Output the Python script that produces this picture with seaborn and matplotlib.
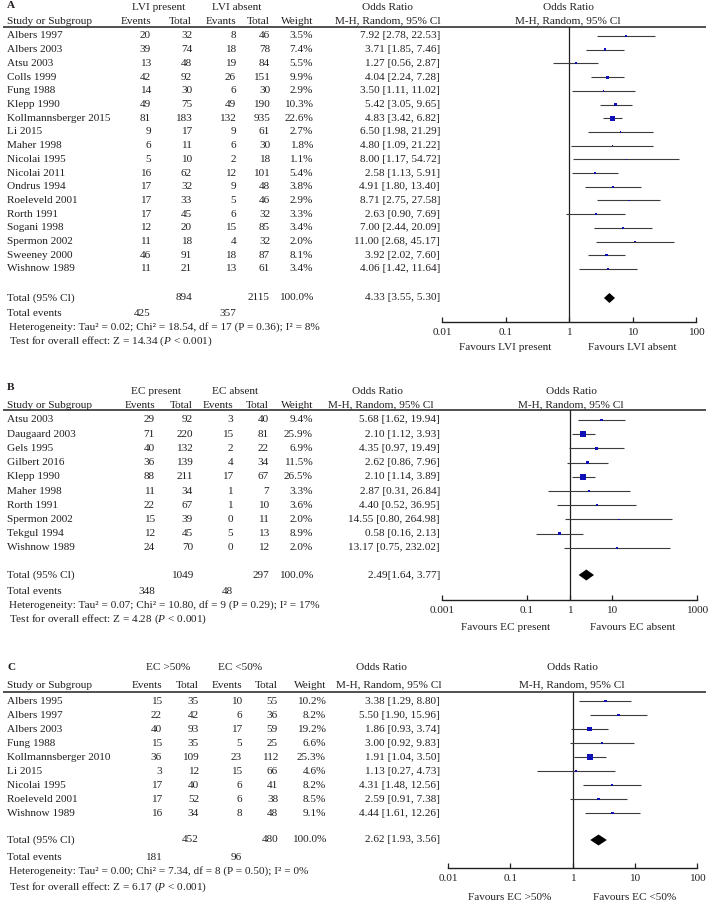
import numpy as np
import matplotlib
matplotlib.use("Agg")
import matplotlib.pyplot as plt
import seaborn as sns

# ---------------- Panel A: LVI present vs LVI absent ----------------
studies_a = ["Albers 1997", "Albers 2003", "Atsu 2003", "Colls 1999", "Fung 1988", "Klepp 1990",
             "Kollmannsberger 2015", "Li 2015", "Maher 1998", "Nicolai 1995", "Nicolai 2011",
             "Ondrus 1994", "Roeleveld 2001", "Rorth 1991", "Sogani 1998", "Spermon 2002",
             "Sweeney 2000", "Wishnow 1989"]
ev1_a = [20, 39, 13, 42, 14, 49, 81, 9, 6, 5, 16, 17, 17, 17, 12, 11, 46, 11]
tot1_a = [32, 74, 48, 92, 30, 75, 183, 17, 11, 10, 62, 32, 33, 45, 20, 18, 91, 21]
ev2_a = [8, 18, 19, 26, 6, 49, 132, 9, 6, 2, 12, 9, 5, 6, 15, 4, 18, 13]
tot2_a = [46, 78, 84, 151, 30, 190, 935, 61, 30, 18, 101, 48, 46, 32, 85, 32, 87, 61]
weight_a = [3.5, 7.4, 5.5, 9.9, 2.9, 10.3, 22.6, 2.7, 1.8, 1.1, 5.4, 3.8, 2.9, 3.3, 3.4, 2.0, 8.1, 3.4]
or_a = [7.92, 3.71, 1.27, 4.04, 3.50, 5.42, 4.83, 6.50, 4.80, 8.00, 2.58, 4.91, 8.71, 2.63,
        7.00, 11.00, 3.92, 4.06]
lo_a = [2.78, 1.85, 0.56, 2.24, 1.11, 3.05, 3.42, 1.98, 1.09, 1.17, 1.13, 1.80, 2.75, 0.90,
        2.44, 2.68, 2.02, 1.42]
hi_a = [22.53, 7.46, 2.87, 7.28, 11.02, 9.65, 6.82, 21.29, 21.22, 54.72, 5.91, 13.40, 27.58,
        7.69, 20.09, 45.17, 7.60, 11.64]
pooled_a = [4.33, 3.55, 5.30]
n_total_a = [894, 2115]
events_total_a = [425, 357]
groups_a = ["LVI present", "LVI absent"]
favours_a = ["Favours LVI present", "Favours LVI absent"]
ticks_a = [0.01, 0.1, 1, 10, 100]
tick_labels_a = ["0.01", "0.1", "1", "10", "100"]
het_a = "Heterogeneity: Tau² = 0.02; Chi² = 18.54, df = 17 (P = 0.36); I² = 8%"
z_a = "Test for overall effect: Z = 14.34 ($P$ < 0.001)"

# ---------------- Panel B: EC present vs EC absent ----------------
studies_b = ["Atsu 2003", "Daugaard 2003", "Gels 1995", "Gilbert 2016", "Klepp 1990",
             "Maher 1998", "Rorth 1991", "Spermon 2002", "Tekgul 1994", "Wishnow 1989"]
ev1_b = [29, 71, 40, 36, 88, 11, 22, 15, 12, 24]
tot1_b = [92, 220, 132, 139, 211, 34, 67, 39, 45, 70]
ev2_b = [3, 15, 2, 4, 17, 1, 1, 0, 5, 0]
tot2_b = [40, 81, 22, 34, 67, 7, 10, 11, 13, 12]
weight_b = [9.4, 25.9, 6.9, 11.5, 26.5, 3.3, 3.6, 2.0, 8.9, 2.0]
or_b = [5.68, 2.10, 4.35, 2.62, 2.10, 2.87, 4.40, 14.55, 0.58, 13.17]
lo_b = [1.62, 1.12, 0.97, 0.86, 1.14, 0.31, 0.52, 0.80, 0.16, 0.75]
hi_b = [19.94, 3.93, 19.49, 7.96, 3.89, 26.84, 36.95, 264.98, 2.13, 232.02]
pooled_b = [2.49, 1.64, 3.77]
n_total_b = [1049, 297]
events_total_b = [348, 48]
groups_b = ["EC present", "EC absent"]
favours_b = ["Favours EC present", "Favours EC absent"]
ticks_b = [0.001, 0.1, 1, 10, 1000]
tick_labels_b = ["0.001", "0.1", "1", "10", "1000"]
het_b = "Heterogeneity: Tau² = 0.07; Chi² = 10.80, df = 9 (P = 0.29); I² = 17%"
z_b = "Test for overall effect: Z = 4.28 ($P$ < 0.001)"

# ---------------- Panel C: EC >50% vs EC <50% ----------------
studies_c = ["Albers 1995", "Albers 1997", "Albers 2003", "Fung 1988", "Kollmannsberger 2010",
             "Li 2015", "Nicolai 1995", "Roeleveld 2001", "Wishnow 1989"]
ev1_c = [15, 22, 40, 15, 36, 3, 17, 17, 16]
tot1_c = [35, 42, 93, 35, 109, 12, 40, 52, 34]
ev2_c = [10, 6, 17, 5, 23, 15, 6, 6, 8]
tot2_c = [55, 36, 59, 25, 112, 66, 41, 38, 48]
weight_c = [10.2, 8.2, 19.2, 6.6, 25.3, 4.6, 8.2, 8.5, 9.1]
or_c = [3.38, 5.50, 1.86, 3.00, 1.91, 1.13, 4.31, 2.59, 4.44]
lo_c = [1.29, 1.90, 0.93, 0.92, 1.04, 0.27, 1.48, 0.91, 1.61]
hi_c = [8.80, 15.96, 3.74, 9.83, 3.50, 4.73, 12.56, 7.38, 12.26]
pooled_c = [2.62, 1.93, 3.56]
n_total_c = [452, 480]
events_total_c = [181, 96]
groups_c = ["EC >50%", "EC <50%"]
favours_c = ["Favours EC >50%", "Favours EC <50%"]
ticks_c = [0.01, 0.1, 1, 10, 100]
tick_labels_c = ["0.01", "0.1", "1", "10", "100"]
het_c = "Heterogeneity: Tau² = 0.00; Chi² = 7.34, df = 8 (P = 0.50); I² = 0%"
z_c = "Test for overall effect: Z = 6.17 ($P$ < 0.001)"

# ---------------- style ----------------
sns.set_theme(style="white")
plt.rcParams["font.family"] = ["Liberation Serif", "DejaVu Serif"]
plt.rcParams["mathtext.fontset"] = "custom"
plt.rcParams["mathtext.rm"] = "Liberation Serif"
plt.rcParams["mathtext.it"] = "Liberation Serif:italic"

W, H = 709, 907
FS = 8.1
TXT = "#231f20"
BLUE = "#1010b8"
LINE = "#3c3c3c"

fig = plt.figure(figsize=(W / 100, H / 100), dpi=100)
bg = fig.add_axes([0, 0, 1, 1])
bg.set_xlim(0, W)
bg.set_ylim(H, 0)
bg.axis("off")


def t(x, y, s, ha="left", **kw):
    bg.text(x, y, s, ha=ha, va="center", fontsize=FS, color=TXT, **kw)


def fmt_or(o, l, h, gap=" "):
    return f"{o:.2f}{gap}[{l:.2f}, {h:.2f}]"


def draw_panel(letter, studies, ev1, tot1, ev2, tot2, weight, ors, lo, hi, pooled,
               n_total, ev_total, groups, favours, ticks, tick_labels, het, z, lay,
               event_heads=("Events", "Events"), pooled_gap=" "):
    cols = lay["cols"]
    # header
    bg.text(7, lay["letter_y"], letter, ha="left", va="center", fontsize=FS,
            fontweight="bold", color=TXT)
    t(lay["group_x"][0], lay["group_y"], groups[0], ha="center")
    t(lay["group_x"][1], lay["group_y"], groups[1], ha="center")
    t(lay["orhead_x"], lay["group_y"], "Odds Ratio", ha="center")
    t(lay["plothead_x"], lay["group_y"], "Odds Ratio", ha="center")
    t(7, lay["head_y"], "Study or Subgroup")
    for x, s in zip(cols, [event_heads[0], "Total", event_heads[1], "Total", "Weight"]):
        t(x, lay["head_y"], s, ha="right")
    t(lay["mh_end"], lay["head_y"], "M-H, Random, 95% Cl", ha="right")
    t(lay["plothead_x"], lay["head_y"], "M-H, Random, 95% Cl", ha="center")
    bg.hlines(lay["line_y"], 3, 706, color=TXT, lw=1.1)

    rows = lay["row0"] + lay["step"] * np.arange(len(studies))
    for i, y in enumerate(rows):
        t(7, y, studies[i])
        vals = [ev1[i], tot1[i], ev2[i], tot2[i], f"{weight[i]:.1f}%"]
        for x, v in zip(cols, vals):
            t(x, y, str(v), ha="right")
        t(lay["or_x"], y, fmt_or(ors[i], lo[i], hi[i]), ha="right")

    ty = lay["total_y"]
    t(7, ty, "Total (95% Cl)")
    t(cols[1], ty, str(n_total[0]), ha="right")
    t(cols[3], ty, str(n_total[1]), ha="right")
    t(cols[4], ty, "100.0%", ha="right")
    t(lay["or_x"], ty, fmt_or(*pooled, gap=pooled_gap), ha="right")
    t(7, lay["events_y"], "Total events")
    t(cols[0], lay["events_y"], str(ev_total[0]), ha="right")
    t(cols[2], lay["events_y"], str(ev_total[1]), ha="right")
    t(9, lay["het_y"], het)
    t(9, lay["z_y"], z)
    t(lay["fav_x"][0], lay["fav_y"], favours[0], ha="center")
    t(lay["fav_x"][1], lay["fav_y"], favours[1], ha="center")

    # forest axes (y in pixel units, x log odds ratio)
    x0, x1 = lay["plot_x"]
    ax = fig.add_axes([x0 / W, 1 - lay["axis_y"] / H, (x1 - x0) / W,
                       (lay["axis_y"] - lay["line_y"]) / H])
    ax.set_xscale("log")
    ax.set_xlim(ticks[0], ticks[-1])
    ax.set_ylim(lay["axis_y"], lay["line_y"])
    ax.patch.set_alpha(0)
    for side in ["top", "left", "right"]:
        ax.spines[side].set_visible(False)
    ax.spines["bottom"].set_color(TXT)
    ax.spines["bottom"].set_linewidth(1.0)
    ax.set_xticks(ticks)
    ax.set_xticklabels(tick_labels)
    ax.minorticks_off()
    ax.tick_params(axis="x", direction="in", length=3.5, width=0.9, pad=4,
                   labelsize=FS, colors=TXT, bottom=True)
    ax.set_yticks([])
    ax.axvline(1, color=TXT, lw=0.9)

    ax.hlines(rows, lo, hi, color=LINE, lw=0.8)
    side_px = 1.2 + 0.17 * np.asarray(weight)
    sizes = (side_px * 0.72) ** 2
    sns.scatterplot(x=ors, y=rows, s=sizes, marker="s", color=BLUE, linewidth=0,
                    legend=False, ax=ax, zorder=3)
    o, l, h = pooled
    hh = lay["dh"]
    ax.fill([l, o, h, o], [ty, ty - hh, ty, ty + hh], color="black", lw=0, zorder=3)
    ax.set_xlabel("")
    ax.set_ylabel("")


lay_a = dict(letter_y=5, group_y=7, head_y=21, line_y=27, row0=36, step=13.7, total_y=298,
             events_y=313, het_y=327, z_y=341, axis_y=322, fav_y=348,
             cols=(151, 192, 236, 270, 313), group_x=(159, 237), or_x=440, orhead_x=387,
             mh_end=441, plothead_x=568, plot_x=(442, 696), fav_x=(505, 632), dh=5)
lay_b = dict(letter_y=387, group_y=392, head_y=405, line_y=410, row0=420, step=14.2,
             total_y=575, events_y=591, het_y=605, z_y=619, axis_y=600, fav_y=627,
             cols=(155, 193, 233, 269, 313), group_x=(156, 235), or_x=440, orhead_x=377,
             mh_end=434, plothead_x=571, plot_x=(442, 697), fav_x=(506, 633), dh=5.5)
lay_c = dict(letter_y=667, group_y=667, head_y=685, line_y=692, row0=701, step=14.0,
             total_y=840, events_y=857, het_y=871, z_y=887, axis_y=868, fav_y=898,
             cols=(162, 199, 242, 278, 326), group_x=(168, 240), or_x=440, orhead_x=381,
             mh_end=442, plothead_x=572, plot_x=(448, 697), fav_x=(510, 635), dh=5.5)

draw_panel("A", studies_a, ev1_a, tot1_a, ev2_a, tot2_a, weight_a, or_a, lo_a, hi_a,
           pooled_a, n_total_a, events_total_a, groups_a, favours_a, ticks_a, tick_labels_a,
           het_a, z_a, lay_a, event_heads=("Events", "Evants"))
draw_panel("B", studies_b, ev1_b, tot1_b, ev2_b, tot2_b, weight_b, or_b, lo_b, hi_b,
           pooled_b, n_total_b, events_total_b, groups_b, favours_b, ticks_b, tick_labels_b,
           het_b, z_b, lay_b, pooled_gap="")
draw_panel("C", studies_c, ev1_c, tot1_c, ev2_c, tot2_c, weight_c, or_c, lo_c, hi_c,
           pooled_c, n_total_c, events_total_c, groups_c, favours_c, ticks_c, tick_labels_c,
           het_c, z_c, lay_c)

fig.savefig("out.png", dpi=100)
